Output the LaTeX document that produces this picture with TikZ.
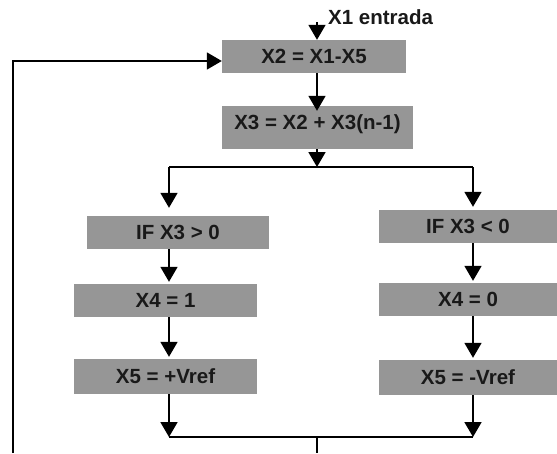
\documentclass[tikz,border=0pt]{standalone}
\usepackage{fontspec}
\setmainfont{Liberation Sans}
\usetikzlibrary{arrows.meta}
\definecolor{boxgray}{RGB}{150,150,150}
\definecolor{inkgray}{RGB}{25,25,25}

\begin{document}
\begin{tikzpicture}[x=1pt,y=-1pt,
    stepbox/.style={fill=boxgray, inner sep=0pt, text=inkgray,
        font=\fontsize{20.5}{24}\selectfont\bfseries},
    flow/.style={line width=1.8pt, -{Triangle[length=15pt,width=17pt]}},
    wire/.style={line width=1.8pt}]
    \useasboundingbox (0,0) rectangle (557,453);
    % Boxes of the loop
    \node[stepbox, minimum width=184pt, minimum height=33pt] (x2) at (314,56.5) {X2 = X1-X5};
    \node[stepbox, minimum width=191pt, minimum height=43pt, text height=15pt, text depth=11.3pt]
        (x3) at (317.5,127.5) {X3 = X2 + X3(n-1)};
    % Positive branch
    \node[stepbox, minimum width=182pt, minimum height=33pt] (ifpos) at (178,232.5) {IF X3 > 0};
    \node[stepbox, minimum width=183pt, minimum height=33pt] (x4pos) at (165.5,300.5) {X4 = 1};
    \node[stepbox, minimum width=183pt, minimum height=35pt] (x5pos) at (165.5,376.5) {X5 = +Vref};
    % Negative branch
    \node[stepbox, minimum width=178pt, minimum height=33pt] (ifneg) at (468,226.5) {IF X3 < 0};
    \node[stepbox, minimum width=178pt, minimum height=33pt] (x4neg) at (468,299.5) {X4 = 0};
    \node[stepbox, minimum width=178pt, minimum height=35pt] (x5neg) at (468,377.5) {X5 = -Vref};
    % Input
    \coordinate (inTop) at (317,22);
    \node[anchor=west, inner sep=0pt, text=inkgray, font=\fontsize{20.5}{24}\selectfont\bfseries]
        (inLabel) at (328,17) {X1 entrada};
    % Split and merge points
    \coordinate (splitC) at (317,167);
    \coordinate (splitL) at (169,167);
    \coordinate (splitR) at (473,167);
    \coordinate (mergeL) at (169,437);
    \coordinate (mergeR) at (473,437);
    \coordinate (mergeC) at (317,437);
    \coordinate (mergeOut) at (317,453);
    \coordinate (fbBot) at (13,453);
    %
    \draw[flow] (inTop) -- (inTop |- x2.north);
    \draw[flow] (x2.south -| splitC) -- ([yshift=-5pt]x3.north -| splitC);
    \draw[flow] (x3.south -| splitC) -- (splitC);
    \draw[wire] (splitL) -- (splitR);
    \draw[flow, shorten >=8pt] (splitL) -- (splitL |- ifpos.north);
    \draw[flow, shorten >=3pt] (splitR) -- (splitR |- ifneg.north);
    % Positive branch arrows
    \draw[flow, shorten >=2pt] (ifpos.south -| splitL) -- (x4pos.north -| splitL);
    \draw[flow, shorten >=2pt] (x4pos.south -| splitL) -- (x5pos.north -| splitL);
    \draw[flow] (x5pos.south -| mergeL) -- (mergeL);
    % Negative branch arrows
    \draw[flow, shorten >=2pt] (ifneg.south -| splitR) -- (x4neg.north -| splitR);
    \draw[flow, shorten >=2pt] (x4neg.south -| splitR) -- (x5neg.north -| splitR);
    \draw[flow] (x5neg.south -| mergeR) -- (mergeR);
    % Merge and feedback
    \draw[wire] (mergeL) -- (mergeR);
    \draw[wire] (mergeC) -- (mergeOut);
    \draw[flow] (fbBot) |- ([yshift=-4.5pt]x2.west);
\end{tikzpicture}
\end{document}
